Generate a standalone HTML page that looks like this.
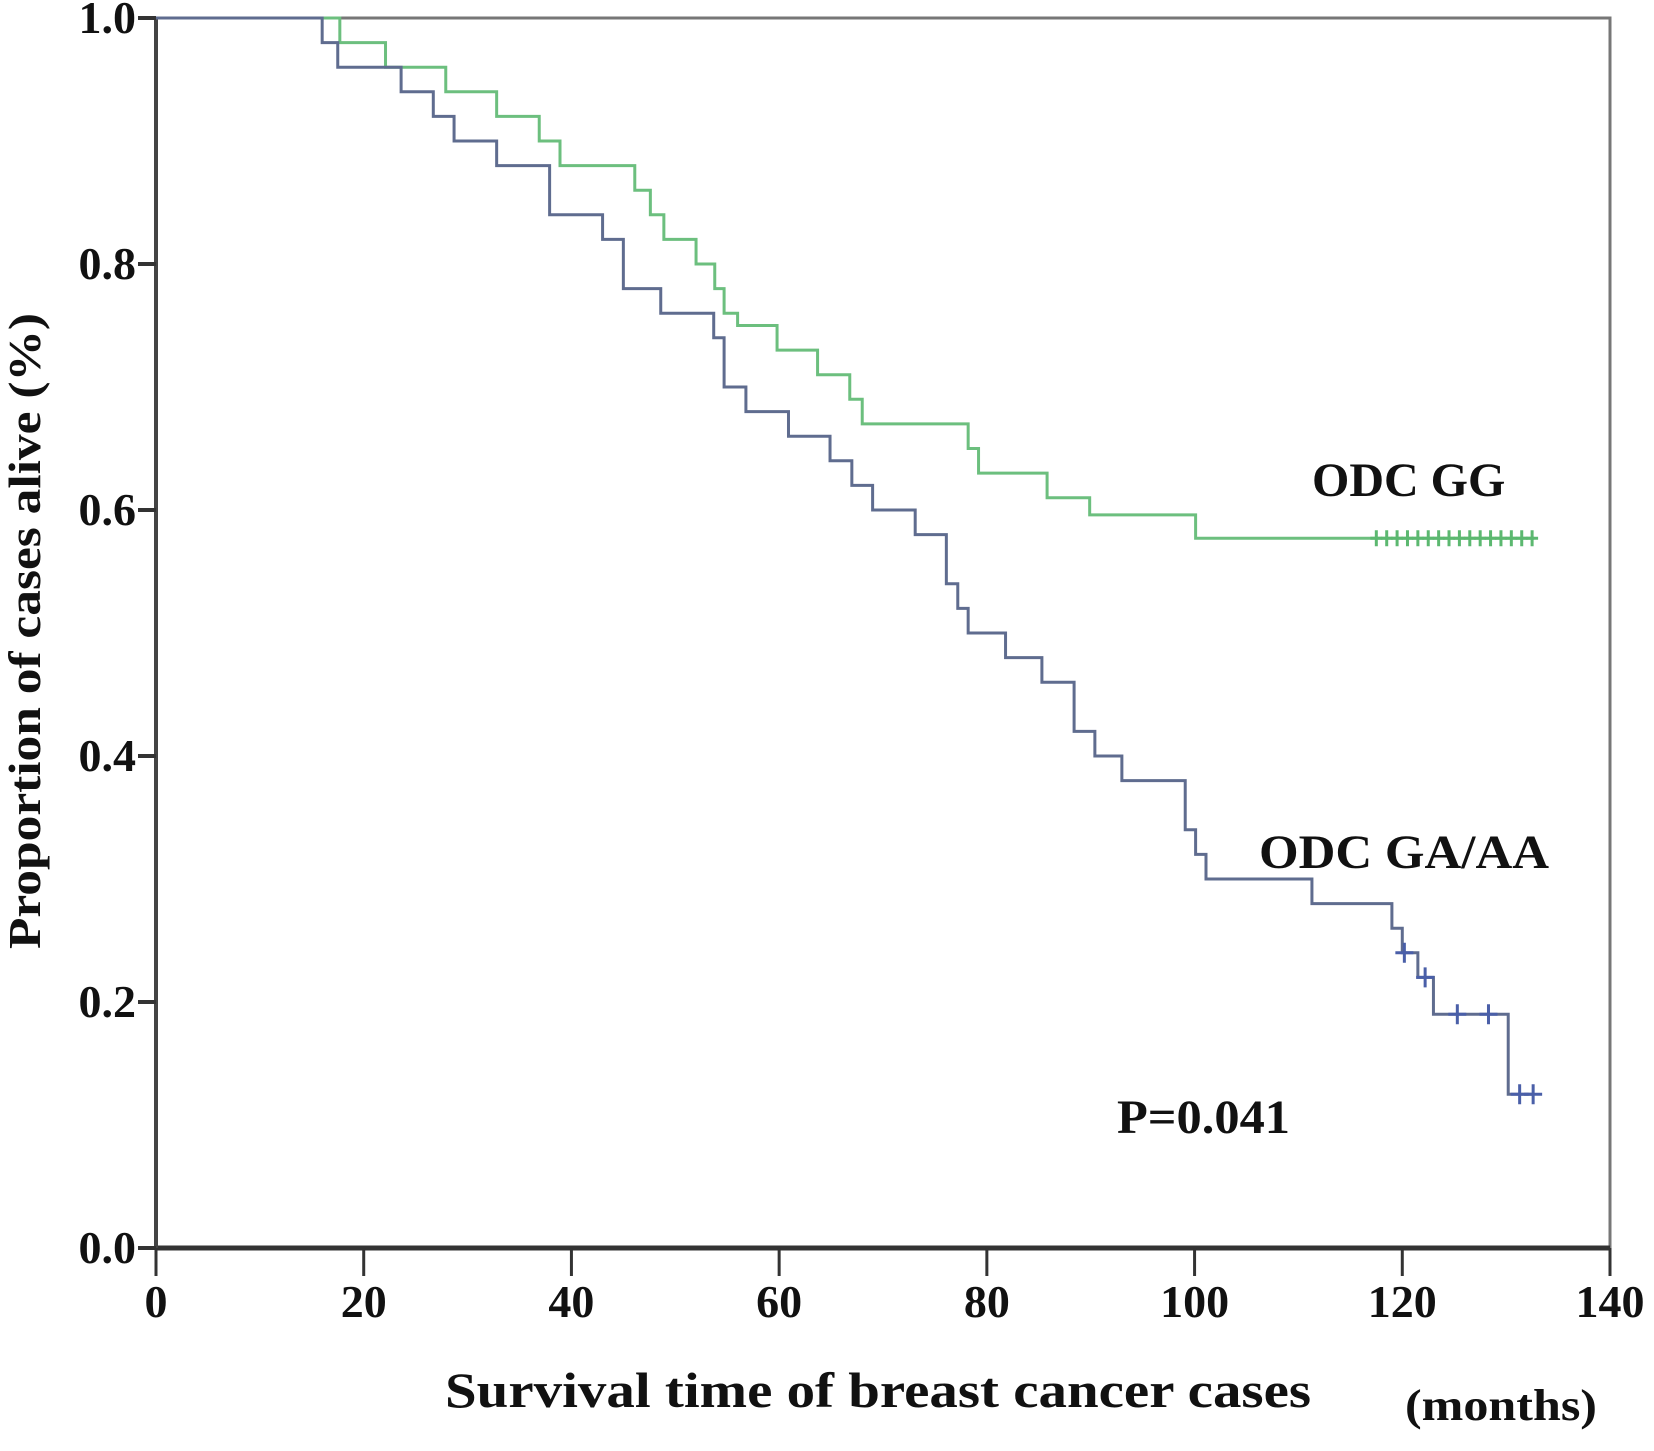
<!DOCTYPE html>
<html><head><meta charset="utf-8"><style>
body{margin:0;background:#fff}
svg{display:block}
text{font-family:"Liberation Serif",serif;font-weight:bold;fill:#111}
</style></head><body>
<svg id="chart" width="1654" height="1451" viewBox="0 0 1654 1451" xmlns="http://www.w3.org/2000/svg">
<g id="axes"></g>
<g id="series"></g>
<text x="1312" y="496" font-size="48">ODC GG</text>
<text x="1259" y="868" font-size="48" textLength="290" lengthAdjust="spacingAndGlyphs">ODC GA/AA</text>
<text x="1117" y="1133" font-size="48" textLength="173" lengthAdjust="spacingAndGlyphs">P=0.041</text>
<text x="445" y="1407" font-size="50" textLength="866" lengthAdjust="spacingAndGlyphs">Survival time of breast cancer cases</text>
<text x="1405" y="1420" font-size="44" textLength="192" lengthAdjust="spacingAndGlyphs">(months)</text>
<text transform="translate(40,631) rotate(-90)" text-anchor="middle" font-size="46" textLength="636" lengthAdjust="spacingAndGlyphs">Proportion of cases alive (%)</text>
</svg>
<script>
const xTicks=[0,20,40,60,80,100,120,140];
const yTicks=[0,0.2,0.4,0.6,0.8,1.0];
const yTickLabels=["0.0","0.2","0.4","0.6","0.8","1.0"];
const ggTimes=[0,17.7,22.1,27.9,32.8,36.9,38.9,46.1,47.6,48.9,52,53.8,54.7,56,59.8,63.7,66.8,68,78.2,79.2,85.8,89.9,100.1];
const ggSurv=[1,0.98,0.96,0.94,0.92,0.90,0.88,0.86,0.84,0.82,0.80,0.78,0.76,0.75,0.73,0.71,0.69,0.67,0.65,0.63,0.61,0.596,0.577];
const ggEnd=132.7;
const ggCensor=[117.5,118.5,119.5,120.5,121.5,122.5,123.5,124.5,125.5,126.5,127.5,128.5,129.5,130.5,131.5,132.5];
const gaTimes=[0,16,17.5,23.6,26.7,28.7,32.8,37.9,43,45,48.6,53.7,54.7,56.8,60.9,64.9,67,69,73.1,76.1,77.2,78.2,81.8,85.3,88.4,90.4,93,99.1,100.1,101.1,111.3,119,120,121.5,123,130.2];
const gaSurv=[1,0.98,0.96,0.94,0.92,0.90,0.88,0.84,0.82,0.78,0.76,0.74,0.70,0.68,0.66,0.64,0.62,0.60,0.58,0.54,0.52,0.50,0.48,0.46,0.42,0.40,0.38,0.34,0.32,0.30,0.28,0.26,0.24,0.22,0.19,0.125];
const gaEnd=132.7;
const gaCensorT=[120.2,122.2,125.3,128.3,131.3,132.6];
const gaCensorS=[0.24,0.22,0.19,0.19,0.125,0.125];

const NS="http://www.w3.org/2000/svg";
const X0=156,X1=1610,Y0=1248,Y1=18;
const xs=t=>X0+(X1-X0)*t/140;
const ys=s=>Y0-(Y0-Y1)*s;
function mk(tag,attrs,parent){const e=document.createElementNS(NS,tag);for(const k in attrs)e.setAttribute(k,attrs[k]);parent.appendChild(e);return e;}
const axes=document.getElementById('axes'),series=document.getElementById('series');
const frame=mk('rect',{x:X0,y:Y1,width:X1-X0,height:Y0-Y1,fill:'none',stroke:'#777','stroke-width':3},axes);


const xl=mk('line',{x1:X0,y1:Y0,x2:X1,y2:Y0,stroke:'#333','stroke-width':5},axes);


const yl=mk('line',{x1:X0,y1:Y0,x2:X0,y2:Y1,stroke:'#444','stroke-width':4},axes);


xTicks.forEach(v=>{
 const l=mk('line',{x1:xs(v),y1:Y0,x2:xs(v),y2:Y0+28,stroke:'#333','stroke-width':3},axes);
 
 
 const t=mk('text',{x:xs(v),y:1317,'text-anchor':'middle','font-size':46},axes);
 
 
 t.textContent=v;
});
yTicks.forEach((v,i)=>{
 const l=mk('line',{x1:X0-18,y1:ys(v),x2:X0,y2:ys(v),stroke:'#333','stroke-width':4},axes);
 
 
 const t=mk('text',{x:X0-20,y:ys(v)+15,'text-anchor':'end','font-size':46},axes);
 
 
 t.textContent=yTickLabels[i];
});
function stepPath(T,S,end){let d='M'+xs(T[0])+','+ys(S[0]);for(let i=1;i<T.length;i++){d+=' H'+xs(T[i])+' V'+ys(S[i]);}d+=' H'+xs(end);return d;}
const gg=mk('path',{d:stepPath(ggTimes,ggSurv,ggEnd),fill:'none',stroke:'#6cbf7e','stroke-width':3},series);


const ga=mk('path',{d:stepPath(gaTimes,gaSurv,gaEnd),fill:'none',stroke:'#5f6c8f','stroke-width':3},series);


const last=ggSurv[ggSurv.length-1];
ggCensor.forEach(t=>{
 const c=mk('path',{d:'M'+(xs(t)-6)+','+ys(last)+' h12 M'+xs(t)+','+(ys(last)-8)+' v16',stroke:'#5cb870','stroke-width':3},series);
 
 
});
gaCensorT.forEach((t,i)=>{
 const c=mk('path',{d:'M'+(xs(t)-9)+','+ys(gaCensorS[i])+' h18 M'+xs(t)+','+(ys(gaCensorS[i])-10)+' v20',stroke:'#4a5fa8','stroke-width':3},series);
 
 
});
</script>
</body></html>
